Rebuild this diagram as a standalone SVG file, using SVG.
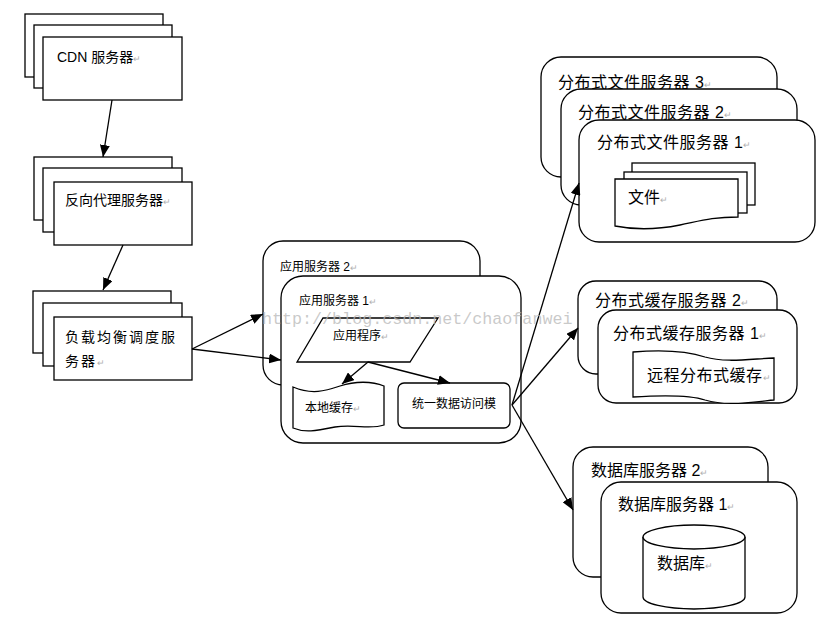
<svg xmlns="http://www.w3.org/2000/svg" width="822" height="624" viewBox="0 0 822 624">
<style>
.b{fill:#fff;stroke:#000;stroke-width:1.3}
.t{font-family:"Liberation Sans","Noto Sans CJK SC",sans-serif;fill:#000}
.s14{font-size:14px}
.s12{font-size:12px}
.s16{font-size:16px}
.pm{fill:#b0b0b0;font-size:9px}
.c line{stroke:#000;stroke-width:1.3;marker-end:url(#arr)}
.wm{font-family:"Liberation Mono",monospace;font-size:16.7px;fill:#b8b8b8;fill-opacity:0.75}
</style>
<defs>
<marker id="arr" markerUnits="userSpaceOnUse" markerWidth="12" markerHeight="10" refX="12" refY="5" orient="auto">
<path d="M0,0 L12,5 L0,10 Z" fill="#000"/>
</marker>
</defs>
<rect width="822" height="624" fill="#fff"/>

<g id="cdn">
<rect class="b" x="25" y="14" width="138" height="63"/>
<rect class="b" x="34" y="25" width="138" height="63"/>
<rect class="b" x="43" y="37" width="139" height="63"/>
<text class="t s14" x="57" y="62">CDN 服务器<tspan class="pm">↵</tspan></text>
</g>

<g id="proxy">
<rect class="b" x="34" y="157" width="138" height="63"/>
<rect class="b" x="43" y="168" width="139" height="64"/>
<rect class="b" x="54" y="182" width="138" height="63"/>
<text class="t s14" x="65" y="205">反向代理服务器<tspan class="pm">↵</tspan></text>
</g>

<g id="lb">
<rect class="b" x="33" y="291" width="138" height="62"/>
<rect class="b" x="43" y="303" width="139" height="63"/>
<rect class="b" x="54" y="317" width="138" height="63"/>
<text class="t s14" x="65" y="342" letter-spacing="2">负载均衡调度服</text>
<text class="t s14" x="65" y="366" letter-spacing="2">务器<tspan class="pm" letter-spacing="0">↵</tspan></text>
</g>

<g id="app2">
<rect class="b" x="263" y="241" width="217" height="144" rx="20"/>
<text class="t s12" x="280" y="271">应用服务器 2<tspan class="pm">↵</tspan></text>
</g>

<g id="app1">
<rect class="b" x="281" y="276" width="240" height="167" rx="22"/>
<text class="t s12" x="299" y="305">应用服务器 1<tspan class="pm">↵</tspan></text>
</g>

<g id="program">
<polygon class="b" points="323,318 438,318 410,362 297,362"/>
<text class="t s12" x="333" y="340">应用程序<tspan class="pm">↵</tspan></text>
</g>

<g id="localcache">
<path class="b" d="M293,387 C312,395 325,391 340,386 C355,381 372,381 384,386 L384,425 C370,430 355,424 335,427 C315,431 305,433 293,428 Z"/>
<text class="t s12" x="305" y="412">本地缓存<tspan class="pm">↵</tspan></text>
</g>

<g id="dataaccess">
<rect class="b" x="398" y="383" width="112" height="45" rx="6"/>
<text class="t s12" x="412" y="408">统一数据访问模</text>
</g>

<g id="fs3">
<rect class="b" x="541" y="57" width="236" height="120" rx="20"/>
<text class="t s16" x="558" y="88" letter-spacing="0.5">分布式文件服务器 3<tspan class="pm">↵</tspan></text>
</g>
<g id="fs2">
<rect class="b" x="561" y="89" width="236" height="116" rx="20"/>
<text class="t s16" x="578" y="118" letter-spacing="0.5">分布式文件服务器 2<tspan class="pm">↵</tspan></text>
</g>
<g id="fs1">
<rect class="b" x="579" y="120" width="236" height="122" rx="20"/>
<text class="t s16" x="597" y="148" letter-spacing="0.5">分布式文件服务器 1<tspan class="pm">↵</tspan></text>
</g>
<g id="files">
<rect class="b" x="632" y="163" width="123" height="42"/>
<rect class="b" x="624" y="172" width="123" height="41"/>
<path class="b" d="M615,179 L738,179 L738,217 C712,217 700,221 680,225 C655,230 635,230 615,226 Z"/>
<text class="t s16" x="628" y="203">文件<tspan class="pm">↵</tspan></text>
</g>

<g id="cs2">
<rect class="b" x="578" y="281" width="199" height="93" rx="18"/>
<text class="t s16" x="595" y="306" letter-spacing="0.5">分布式缓存服务器 2<tspan class="pm">↵</tspan></text>
</g>
<g id="cs1">
<rect class="b" x="598" y="310" width="199" height="93" rx="18"/>
<text class="t s16" x="613" y="339" letter-spacing="0.5">分布式缓存服务器 1<tspan class="pm">↵</tspan></text>
</g>
<g id="remotecache">
<path class="b" d="M633,352 C670,349 690,352 705,357 C725,363 750,359 774,358 L774,400 C745,403 725,406 705,400 C690,395 665,395 633,397 Z"/>
<text class="t s16" x="647" y="381" letter-spacing="0.5">远程分布式缓存<tspan class="pm">↵</tspan></text>
</g>

<g id="db2">
<rect class="b" x="573" y="447" width="195" height="130" rx="20"/>
<text class="t s16" x="591" y="476">数据库服务器 2<tspan class="pm">↵</tspan></text>
</g>
<g id="db1">
<rect class="b" x="601" y="482" width="196" height="131" rx="20"/>
<text class="t s16" x="618" y="510">数据库服务器 1<tspan class="pm">↵</tspan></text>
</g>
<g id="database">
<path class="b" d="M643,537 L643,597 A51,12 0 0 0 745,597 L745,537"/>
<ellipse class="b" cx="694" cy="537" rx="51" ry="12"/>
<text class="t s16" x="657" y="569">数据库<tspan class="pm">↵</tspan></text>
</g>

<g id="connectors" class="c">
<line x1="112" y1="100" x2="103" y2="157"/>
<line x1="123" y1="245" x2="103" y2="290"/>
<line x1="192" y1="349" x2="263" y2="314"/>
<line x1="192" y1="349" x2="281" y2="360"/>
<line x1="368" y1="362" x2="342" y2="384"/>
<line x1="368" y1="362" x2="450" y2="383"/>
<line x1="512" y1="405" x2="579" y2="183"/>
<line x1="512" y1="405" x2="578" y2="328"/>
<line x1="512" y1="405" x2="573" y2="510"/>
</g>

<text class="wm" x="262" y="324">http://blog.csdn.net/chaofanwei</text>
</svg>
